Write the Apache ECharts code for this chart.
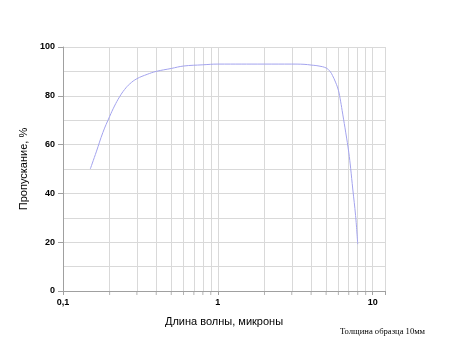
<!DOCTYPE html>
<html><head><meta charset="utf-8">
<script src="https://cdn.jsdelivr.net/npm/echarts@6/dist/echarts.min.js"></script>
<style>html,body{margin:0;padding:0;background:#fff}#c{width:450px;height:360px}</style>
</head><body><div id="c"></div>
<script>
var wavelength = [0.15,0.164,0.181,0.2,0.215,0.232,0.25,0.27,0.3,0.35,0.4,0.5,0.6,0.8,1,2,3,3.6,4,4.5,5,5.3,5.5,5.75,6,6.2,6.4,6.7,7,7.2,7.43,7.75,8];
var transmission = [50,57,65,71.5,75.8,79.6,82.6,84.9,87,88.8,90,91.2,92.2,92.7,93,93,93,92.9,92.6,92.2,91.4,90,88.3,85.6,82.3,77.8,72.5,64.8,56.9,50.3,41.8,30.9,19.2];
var minorX = [0.2,0.3,0.4,0.5,0.6,0.7,0.8,0.9,2,3,4,5,6,7,8,9];
var majorXLabels = {'0.1':'0,1','1':'1','10':'10'};
var xMin = 0.1, xMax = 12;

var chart = echarts.init(document.getElementById('c'), null, {renderer:'canvas'});
var grid = '#d9d9d9';
chart.setOption({
  animation:false,
  grid:{left:63,top:47,right:65,bottom:69},
  xAxis:{
    type:'log', logBase:10, min:xMin, max:xMax,
    name:'Длина волны, микроны', nameLocation:'middle', nameGap:25,
    nameTextStyle:{fontFamily:'Liberation Sans', fontSize:11, color:'#000'},
    axisLine:{lineStyle:{color:'#a0a0a0'}},
    axisTick:{show:true, length:4, lineStyle:{color:'#a0a0a0'}},
    axisLabel:{margin:7, fontFamily:'Liberation Sans', fontSize:9, fontWeight:'bold', color:'#000',
      formatter:function(v){ var k = String(Math.round(v*10)/10); return majorXLabels[k] || ''; }},
    splitLine:{show:true, lineStyle:{color:grid}}
  },
  yAxis:{
    type:'value', min:0, max:100, interval:20,
    name:'Пропускание, %', nameLocation:'middle', nameGap:31,
    nameTextStyle:{fontFamily:'Liberation Sans', fontSize:11, color:'#000'},
    axisLine:{show:true, lineStyle:{color:'#a0a0a0'}},
    axisTick:{show:true, length:5, lineStyle:{color:'#a0a0a0'}},
    axisLabel:{margin:8, fontFamily:'Liberation Sans', fontSize:9, fontWeight:'bold', color:'#000'},
    splitLine:{show:true, lineStyle:{color:grid}},
    minorTick:{show:false, splitNumber:2},
    minorSplitLine:{show:true, lineStyle:{color:grid}}
  },
  series:[
    {type:'line', data:wavelength.map(function(x,i){return [x, transmission[i]];}),
     smooth:0.4, symbol:'none', lineStyle:{color:'#a3a3ee', width:1}, z:5,
     markLine:{silent:true, symbol:'none', label:{show:false},
       lineStyle:{color:grid, type:'solid', width:1},
       data:minorX.map(function(x){return {xAxis:x};})}
    },
    {type:'scatter', data:minorX.map(function(x){return [x,0];}), symbol:'rect',
     symbolSize:[1,4], symbolOffset:[0,2], clip:false, silent:true,
     itemStyle:{color:'#a0a0a0'}}
  ],
  graphic:[{type:'text', left:340, top:327,
    style:{text:'Толщина образца 10мм', font:'8.6px "Liberation Serif"', fill:'#000'}}]
});
</script></body></html>
